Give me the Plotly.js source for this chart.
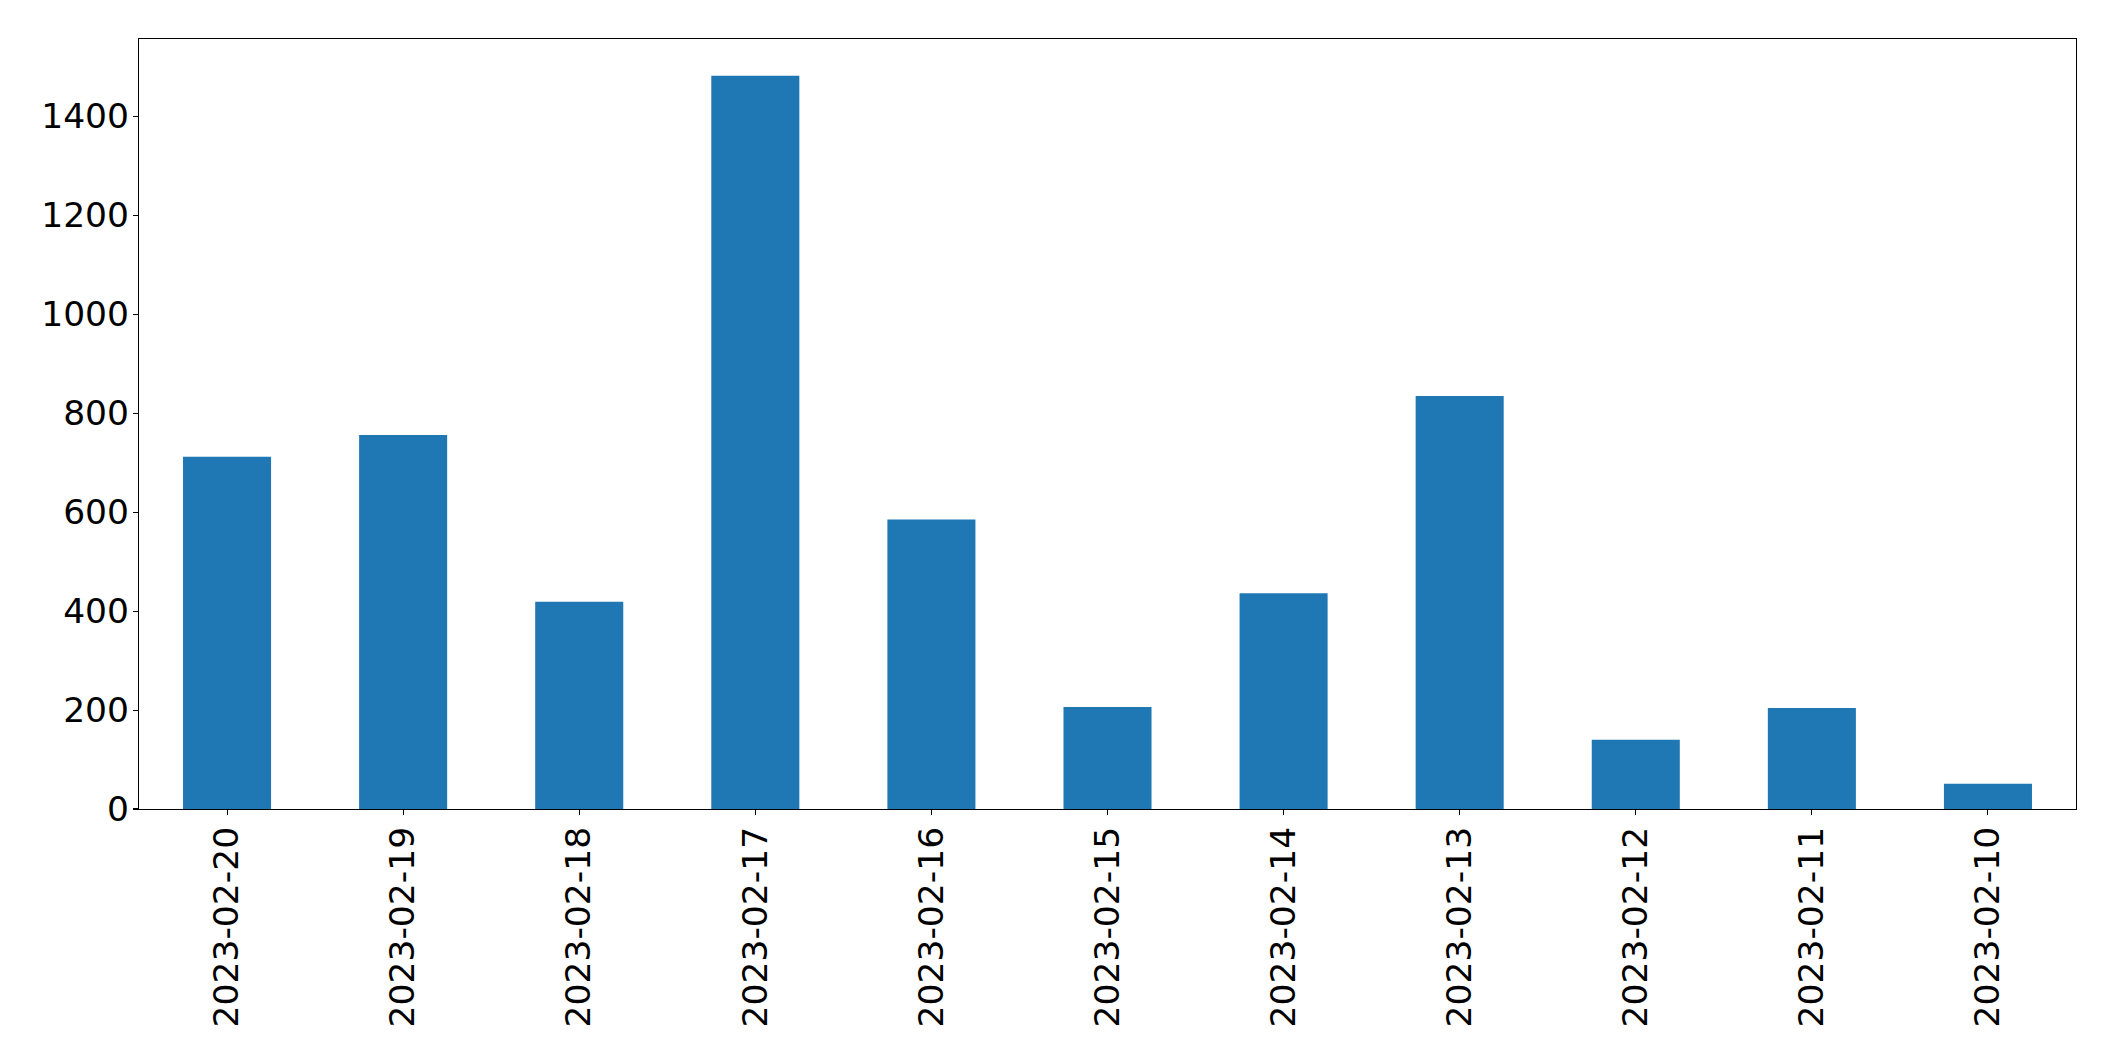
<!DOCTYPE html>
<html>
<head>
<meta charset="utf-8">
<script src="https://cdn.plot.ly/plotly-3.0.1.min.js"></script>
<style>html,body{margin:0;padding:0;background:#fff;}#chart{width:2115px;height:1061px;}</style>
</head>
<body>
<div id="chart"></div>
<script>
const categories = ["2023-02-20","2023-02-19","2023-02-18","2023-02-17","2023-02-16","2023-02-15","2023-02-14","2023-02-13","2023-02-12","2023-02-11","2023-02-10"];
const values = [712, 756, 419, 1482, 585, 206, 436, 835, 140, 204, 51];
const yTicks = [0, 200, 400, 600, 800, 1000, 1200, 1400];

const font = {family: "DejaVu Sans", size: 34.5, color: "#000"};

Plotly.newPlot("chart", [{
  type: "bar",
  x: categories,
  y: values,
  width: 0.5,
  marker: {color: "#1f77b4", line: {width: 0}},
  hoverinfo: "x+y"
}], {
  width: 2115,
  height: 1061,
  margin: {l: 139, r: 39, t: 39, b: 252, pad: 0},
  paper_bgcolor: "#fff",
  plot_bgcolor: "#fff",
  showlegend: false,
  font: font,
  xaxis: {
    type: "category",
    range: [-0.5, 10.5],
    tickangle: -90,
    ticks: "outside",
    ticklen: 5,
    tickwidth: 1.1,
    tickcolor: "#000",
    showline: true,
    linecolor: "#000",
    linewidth: 1.1,
    mirror: true,
    showgrid: false,
    zeroline: false,
    tickfont: font,
    ticklabelstandoff: -2
  },
  yaxis: {
    range: [0, 1556.5],
    tickmode: "array",
    tickvals: yTicks,
    ticktext: yTicks.map(String),
    ticks: "outside",
    ticklen: 5,
    tickwidth: 1.1,
    tickcolor: "#000",
    showline: true,
    linecolor: "#000",
    linewidth: 1.1,
    mirror: true,
    showgrid: false,
    zeroline: false,
    tickfont: font,
    ticklabelstandoff: -3
  }
}, {displayModeBar: false, staticPlot: true});
</script>
</body>
</html>
